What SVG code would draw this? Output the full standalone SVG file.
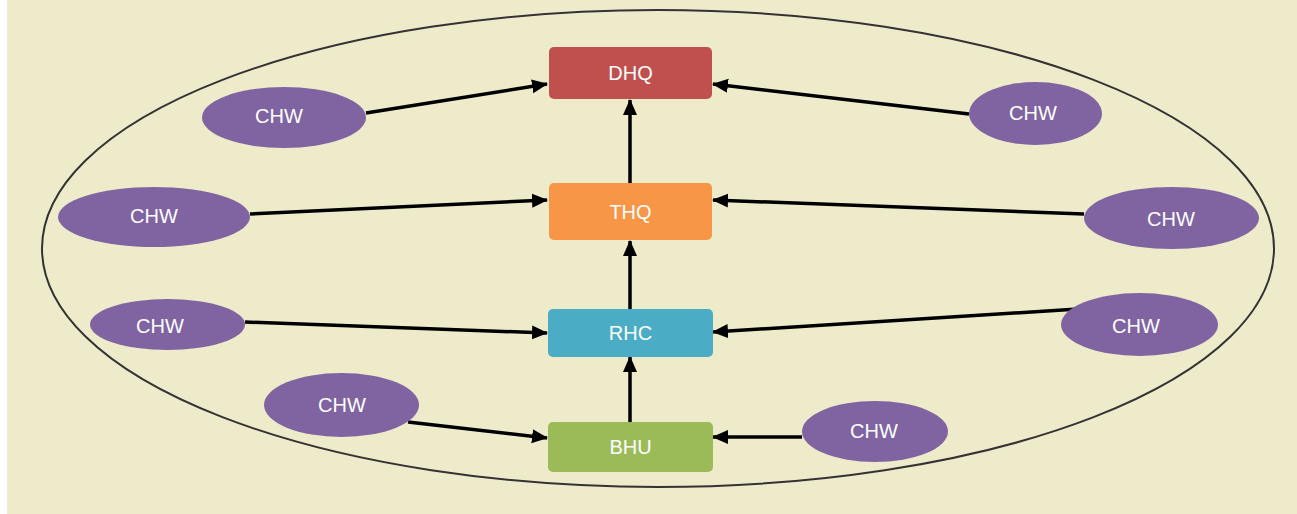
<svg xmlns="http://www.w3.org/2000/svg" width="1297" height="514" viewBox="0 0 1297 514">
<style>
.bg{fill:#EEEBCB}
.hub{fill:none;stroke:#333;stroke-width:2}
.chw{fill:#8064A2}
.lbl{font-family:"Liberation Sans",Arial,sans-serif;font-size:20px;fill:#fff;text-anchor:middle;dominant-baseline:central}
.c{stroke:#000;stroke-width:3.5;fill:none;marker-end:url(#ah)}
</style>
<defs>
<marker id="ah" markerUnits="userSpaceOnUse" markerWidth="16" markerHeight="16" viewBox="0 0 16 16" refX="15" refY="8" orient="auto">
<path d="M0,1 L16,8 L0,15 Z" fill="#000"/>
</marker>
</defs>
<rect class="bg" x="7" y="0" width="1290" height="514"/>
<ellipse class="hub" cx="658" cy="248.5" rx="616" ry="238.5"/>
<g id="connectors">
<line class="c" x1="366" y1="113" x2="547" y2="84"/>
<line class="c" x1="969" y1="114" x2="713" y2="84"/>
<line class="c" x1="250" y1="214" x2="547" y2="200"/>
<line class="c" x1="1084" y1="214" x2="713" y2="200"/>
<line class="c" x1="245" y1="322" x2="547" y2="333"/>
<line class="c" x1="1078" y1="309" x2="713" y2="332"/>
<line class="c" x1="408" y1="422" x2="547" y2="438"/>
<line class="c" x1="802" y1="437" x2="713" y2="437"/>
<line class="c" x1="630" y1="183" x2="630" y2="100"/>
<line class="c" x1="630" y1="309" x2="630" y2="241"/>
<line class="c" x1="630" y1="422" x2="630" y2="357"/>
</g>
<g id="dhq"><rect x="549" y="47" width="163" height="52" rx="5" fill="#C0504D"/><text class="lbl" x="630.5" y="73">DHQ</text></g>
<g id="thq"><rect x="549" y="183" width="163" height="57" rx="5" fill="#F79646"/><text class="lbl" x="630.5" y="212">THQ</text></g>
<g id="rhc"><rect x="548" y="309" width="165" height="48" rx="5" fill="#4BACC6"/><text class="lbl" x="630.5" y="333">RHC</text></g>
<g id="bhu"><rect x="548" y="422" width="165" height="50" rx="5" fill="#9BBB59"/><text class="lbl" x="630.5" y="447">BHU</text></g>
<g id="chw1"><ellipse class="chw" cx="284" cy="117.5" rx="82" ry="30.5"/><text class="lbl" x="279" y="116">CHW</text></g>
<g id="chw2"><ellipse class="chw" cx="1035.5" cy="113.5" rx="66.5" ry="31.5"/><text class="lbl" x="1033" y="113">CHW</text></g>
<g id="chw3"><ellipse class="chw" cx="154" cy="217" rx="96" ry="30"/><text class="lbl" x="154" y="216">CHW</text></g>
<g id="chw4"><ellipse class="chw" cx="1171.5" cy="218" rx="87.5" ry="31"/><text class="lbl" x="1171" y="219">CHW</text></g>
<g id="chw5"><ellipse class="chw" cx="167.5" cy="324.5" rx="77.5" ry="25.5"/><text class="lbl" x="160" y="326">CHW</text></g>
<g id="chw6"><ellipse class="chw" cx="1139.5" cy="324.5" rx="78.5" ry="31.5"/><text class="lbl" x="1136" y="326">CHW</text></g>
<g id="chw7"><ellipse class="chw" cx="341.5" cy="405" rx="77.5" ry="32"/><text class="lbl" x="342" y="405">CHW</text></g>
<g id="chw8"><ellipse class="chw" cx="875" cy="431.5" rx="73" ry="30.5"/><text class="lbl" x="874" y="431">CHW</text></g>
</svg>
